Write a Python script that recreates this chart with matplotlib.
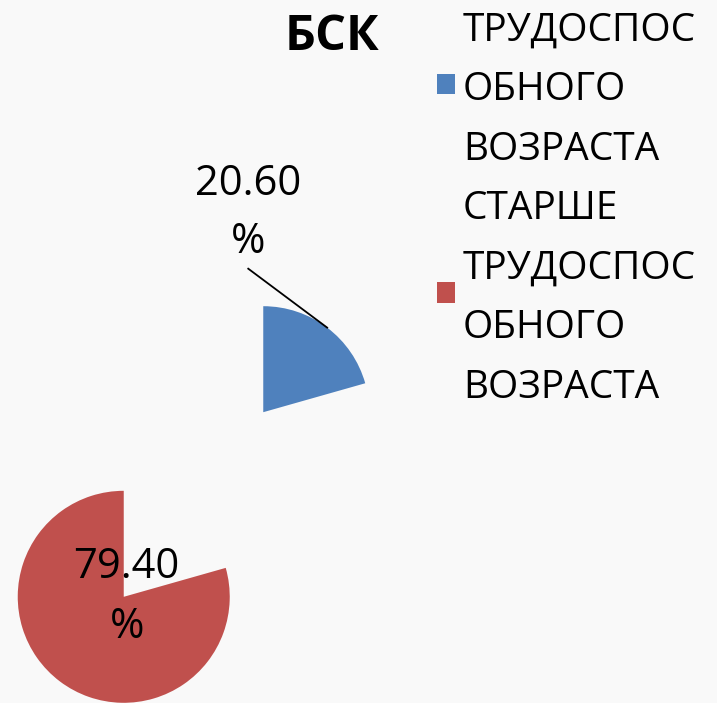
import matplotlib
matplotlib.use("Agg")
import matplotlib.pyplot as plt
import matplotlib.patches as mpatches
from matplotlib.legend_handler import HandlerPatch
import numpy as np

# chart data
TITLE = "БСК"
categories = ["ТРУДОСПОС\nОБНОГО\nВОЗРАСТА",
              "СТАРШЕ\nТРУДОСПОС\nОБНОГО\nВОЗРАСТА"]
shares = [20.6, 79.4]
colors = ["#4f81bd", "#c0504d"]

W, H = 717, 703
BG = "#f9f9f9"
FONT_SIZE = 28
LBL_SIZE = 30
LINE_SP = 1.74

plt.rcParams['font.family'] = ['Open Sans', 'DejaVu Sans']

fig = plt.figure(figsize=(W / 100, H / 100), dpi=100, facecolor=BG)
ax = fig.add_axes([0, 0, 1, 1])
ax.set_facecolor(BG)

# pie geometry in pixel-like data units
R = 106
CENTER = (193.5, 198.5)
EXPLODE = 115.7

wedges, _ = ax.pie(shares, colors=colors, startangle=90, counterclock=False,
                   radius=R, center=CENTER, explode=[EXPLODE, EXPLODE],
                   wedgeprops=dict(linewidth=0))
ax.set_xlim(0, W)
ax.set_ylim(0, H)
ax.set_aspect('equal')
ax.axis('off')

# data labels
blue, red = wedges
bx, by = blue.center
mid = np.deg2rad((blue.theta1 + blue.theta2) / 2)
lbl_x, lbl_y = bx - 15, by + 199.5
ax.text(lbl_x, lbl_y, f"{shares[0]:.2f}\n%", ha='center', va='center',
        fontsize=LBL_SIZE, linespacing=1.5)
ax.plot([lbl_x, bx + R * np.cos(mid)], [lbl_y - 56, by + R * np.sin(mid)],
        color='black', lw=1.3)

rx, ry = red.center
ax.text(rx + 3, ry, f"{shares[1]:.2f}\n%", ha='center', va='center',
        fontsize=LBL_SIZE, linespacing=1.58)

# title
fig.text(332 / W, 1 - 50 / H, TITLE, ha='center', va='baseline',
         fontsize=35, fontweight='bold')


# legend squares sit a little above the text centre, as in the original
def square(legend, orig_handle, xdescent, ydescent, width, height, fontsize):
    return mpatches.Rectangle((-xdescent, -ydescent + 5.5), width * 0.95,
                              height * 0.92)


leg = fig.legend(wedges, categories, loc='upper left',
                 bbox_to_anchor=(437 / W, 1 - 12 / H), frameon=False,
                 fontsize=FONT_SIZE, handlelength=0.49, handleheight=0.49,
                 handletextpad=0.18, labelspacing=0.55, borderaxespad=0,
                 borderpad=0,
                 handler_map={mpatches.Wedge: HandlerPatch(patch_func=square)})
for t in leg.get_texts():
    t.set_linespacing(LINE_SP)

fig.savefig("out.png", dpi=100, facecolor=BG)
